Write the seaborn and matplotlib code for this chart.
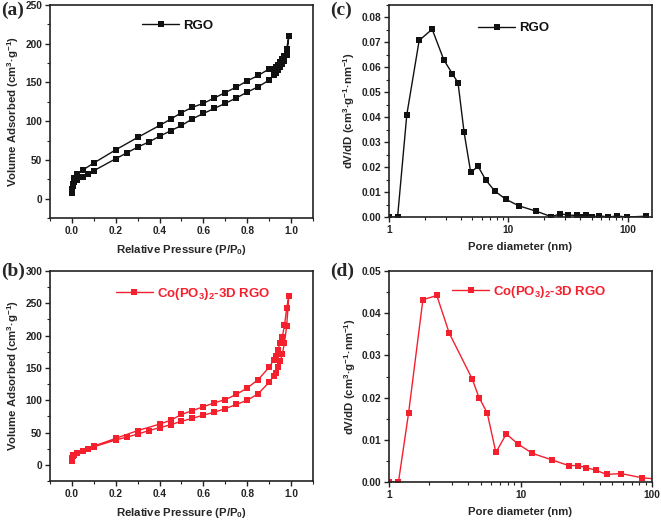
import numpy as np
import pandas as pd
import matplotlib
matplotlib.use("Agg")
import matplotlib.pyplot as plt
import matplotlib.ticker as mticker
import seaborn as sns

# ---------------- data ----------------
# (a) RGO isotherm: adsorption then desorption
rgo_p = [0.0, 0.0, 0.003, 0.007, 0.01, 0.025, 0.05, 0.075, 0.1, 0.2, 0.25, 0.3, 0.35, 0.4, 0.45, 0.5,
         0.55, 0.6, 0.65, 0.7, 0.75, 0.8, 0.85, 0.9, 0.92, 0.93, 0.94, 0.95, 0.96, 0.97, 0.98, 0.99,
         0.98, 0.97, 0.96, 0.95, 0.94, 0.93, 0.92, 0.9, 0.85, 0.8, 0.75, 0.7, 0.65, 0.6, 0.55, 0.5,
         0.45, 0.4, 0.3, 0.2, 0.1, 0.05, 0.025, 0.01]
rgo_v = [7, 12, 16, 19, 21, 24, 28.5, 32, 36, 51.5, 59, 66.5, 73, 80.5, 87.5, 94.5,
         103, 110, 116.5, 123, 130, 137.5, 144.5, 153, 159, 162, 166, 170, 174, 178, 185, 210,
         193.5, 184, 180, 176, 173, 170, 168, 167.5, 159, 152, 144, 137, 130, 123, 118, 111,
         102.5, 94.5, 79, 63, 46, 37, 31.5, 27]

# (b) Co(PO3)2-3D RGO isotherm
co_p = [0.0, 0.0, 0.003, 0.007, 0.01, 0.025, 0.05, 0.075, 0.1, 0.2, 0.25, 0.3, 0.35, 0.4, 0.45, 0.5,
        0.55, 0.6, 0.65, 0.7, 0.75, 0.8, 0.85, 0.9, 0.92, 0.93, 0.94, 0.95, 0.96, 0.97, 0.98, 0.99,
        0.98, 0.97, 0.96, 0.95, 0.94, 0.93, 0.92, 0.9, 0.85, 0.8, 0.75, 0.7, 0.65, 0.6, 0.55, 0.5,
        0.45, 0.4, 0.3, 0.2, 0.1]
co_v = [6, 10, 13, 15, 16, 19, 22, 25, 28, 38.5, 43, 47.5, 53, 57.5, 62, 67.5,
        72, 77, 81.5, 87, 93.5, 100, 110, 128, 137, 142, 151, 160, 171, 189, 215, 262,
        242, 216, 198, 189, 178, 169, 162, 151, 132, 119, 109, 101, 96, 90, 84, 78,
        69, 63, 53, 41, 29]

# (c) RGO pore size distribution
rgo_d = [1.0, 1.18, 1.41, 1.79, 2.30, 2.88, 3.40, 3.79, 4.26, 4.84, 5.58, 6.48, 7.70, 9.47, 12.2,
         17.2, 23.0, 27.2, 31.4, 37.3, 41.7, 44.7, 50.5, 57.6, 68.9, 81.0, 98.5, 142.0]
rgo_dv = [0.0, 0.0, 0.041, 0.0708, 0.0753, 0.0630, 0.0574, 0.0538, 0.0339, 0.0179, 0.0203, 0.0148,
          0.0104, 0.0072, 0.0045, 0.0023, 0.0001, 0.0013, 0.0008, 0.0006, 0.0, 0.0006, 0.0, 0.0005,
          0.0, 0.0004, 0.0, 0.0003]

# (d) Co(PO3)2-3D RGO pore size distribution
co_d = [1.0, 1.18, 1.41, 1.81, 2.31, 2.87, 4.28, 4.84, 5.58, 6.50, 7.79, 9.57, 12.3, 17.5, 23.2,
        27.4, 31.7, 37.3, 45.3, 58.3, 83.9, 142.0]
co_dv = [0.0, 0.0, 0.0164, 0.0432, 0.0442, 0.0353, 0.0245, 0.0200, 0.0164, 0.0070, 0.0114, 0.0090,
         0.0068, 0.0052, 0.0039, 0.0039, 0.0034, 0.0028, 0.0018, 0.0020, 0.0010, 0.0004]

label_rgo = "RGO"
label_co = r"Co(PO$_{3}$)$_{2}$-3D RGO"
panel_labels = ["(a)", "(b)", "(c)", "(d)"]

# ---------------- style ----------------
sns.set_theme(style="ticks")
plt.rcParams["font.family"] = ["Liberation Sans", "DejaVu Sans"]
plt.rcParams["font.weight"] = "bold"
plt.rcParams["mathtext.fontset"] = "custom"
plt.rcParams["mathtext.rm"] = "Liberation Sans:bold"
plt.rcParams["mathtext.bf"] = "Liberation Sans:bold"
plt.rcParams["mathtext.it"] = "Liberation Sans:bold"
plt.rcParams["mathtext.default"] = "bf"

BLACK = "#111111"
RED = "#f5202e"

fig = plt.figure(figsize=(6.61, 5.22), dpi=100)
axa = fig.add_axes([0.0756, 0.5824, 0.3979, 0.4080])
axc = fig.add_axes([0.5885, 0.5843, 0.3979, 0.4061])
axb = fig.add_axes([0.0756, 0.0785, 0.3979, 0.4023])
axd = fig.add_axes([0.5885, 0.0766, 0.3979, 0.4042])


def style_axis(ax):
    for s in ax.spines.values():
        s.set_linewidth(1.2)
        s.set_color("#222222")
    ax.tick_params(which="major", direction="out", length=3.5, width=1.0, labelsize=7.3,
                   top=False, right=False, colors="#222222", pad=2)
    ax.tick_params(which="minor", direction="out", length=2, width=0.8,
                   top=False, right=False, colors="#222222")
    for lab in ax.get_xticklabels() + ax.get_yticklabels():
        lab.set_fontweight("bold")


def draw(ax, x, y, color, label):
    df = pd.DataFrame({"x": x, "y": y})
    sns.lineplot(data=df, x="x", y="y", sort=False, estimator=None, ax=ax, color=color,
                 marker="s", markersize=4.4, markeredgewidth=0, linewidth=1.0, label=label)


XL = dict(fontsize=8.2, fontweight="bold", labelpad=5)
YL = dict(fontsize=8.2, fontweight="bold", labelpad=3)

# (a)
draw(axa, rgo_p, rgo_v, BLACK, label_rgo)
axa.set_xlim(-0.1, 1.1)
axa.xaxis.set_major_locator(mticker.MultipleLocator(0.2))
axa.xaxis.set_minor_locator(mticker.MultipleLocator(0.1))
axa.yaxis.set_major_locator(mticker.MultipleLocator(50))
axa.yaxis.set_minor_locator(mticker.MultipleLocator(25))
axa.xaxis.set_major_formatter(mticker.FormatStrFormatter("%.1f"))
axa.set_ylim(-25, 250)
axa.set_xlabel("Relative Pressure (P/P$_{0}$)", **XL)
axa.set_ylabel("Volume Adsorbed (cm$^{3}$·g$^{-1}$)", **YL)

# (b)
draw(axb, co_p, co_v, RED, label_co)
axb.set_xlim(-0.1, 1.1)
axb.xaxis.set_major_locator(mticker.MultipleLocator(0.2))
axb.xaxis.set_minor_locator(mticker.MultipleLocator(0.1))
axb.yaxis.set_major_locator(mticker.MultipleLocator(50))
axb.yaxis.set_minor_locator(mticker.MultipleLocator(25))
axb.xaxis.set_major_formatter(mticker.FormatStrFormatter("%.1f"))
axb.set_ylim(-25, 300)
axb.set_xlabel("Relative Pressure (P/P$_{0}$)", **XL)
axb.set_ylabel("Volume Adsorbed (cm$^{3}$·g$^{-1}$)", **YL)

# (c)
draw(axc, rgo_d, rgo_dv, BLACK, label_rgo)
axc.set_xscale("log")
axc.set_xlim(1, 160)
axc.yaxis.set_major_locator(mticker.MultipleLocator(0.01))
axc.yaxis.set_minor_locator(mticker.MultipleLocator(0.005))
axc.yaxis.set_major_formatter(mticker.FormatStrFormatter("%.2f"))
axc.set_ylim(0, 0.085)
axc.set_xlabel("Pore diameter (nm)", **XL)
axc.set_ylabel("dV/dD (cm$^{3}$·g$^{-1}$·nm$^{-1}$)", **YL)

# (d)
draw(axd, co_d, co_dv, RED, label_co)
axd.set_xscale("log")
axd.set_xlim(1, 100)
axd.yaxis.set_major_locator(mticker.MultipleLocator(0.01))
axd.yaxis.set_minor_locator(mticker.MultipleLocator(0.005))
axd.yaxis.set_major_formatter(mticker.FormatStrFormatter("%.2f"))
axd.set_ylim(0, 0.05)
axd.set_xlabel("Pore diameter (nm)", **XL)
axd.set_ylabel("dV/dD (cm$^{3}$·g$^{-1}$·nm$^{-1}$)", **YL)

for ax in (axc, axd):
    ax.xaxis.set_major_locator(mticker.LogLocator(base=10, numticks=10))
    ax.xaxis.set_minor_locator(mticker.LogLocator(base=10, subs=np.arange(2, 10), numticks=10))
    ax.xaxis.set_major_formatter(mticker.FuncFormatter(lambda v, p: f"{v:g}"))
    ax.xaxis.set_minor_formatter(mticker.NullFormatter())

for ax in (axa, axb, axc, axd):
    style_axis(ax)

# legends
leg_pos = {axa: (0.33, 0.955), axc: (0.32, 0.945), axb: (0.23, 0.955), axd: (0.22, 0.965)}
for ax, pos in leg_pos.items():
    ax.legend(loc="upper left", bbox_to_anchor=pos, frameon=False, handlelength=2.8,
              handletextpad=0.3, borderaxespad=0, prop={"weight": "bold", "size": 9.5},
              labelcolor="linecolor")

# panel labels
panel_xy = [(0.002, 0.996), (0.002, 0.496), (0.499, 0.996), (0.499, 0.496)]
for lab, (x, y) in zip(panel_labels, panel_xy):
    fig.text(x, y, lab, fontsize=14, fontweight="bold", family=["Liberation Serif", "DejaVu Serif"],
             ha="left", va="top")

fig.savefig("out.png", dpi=100)
